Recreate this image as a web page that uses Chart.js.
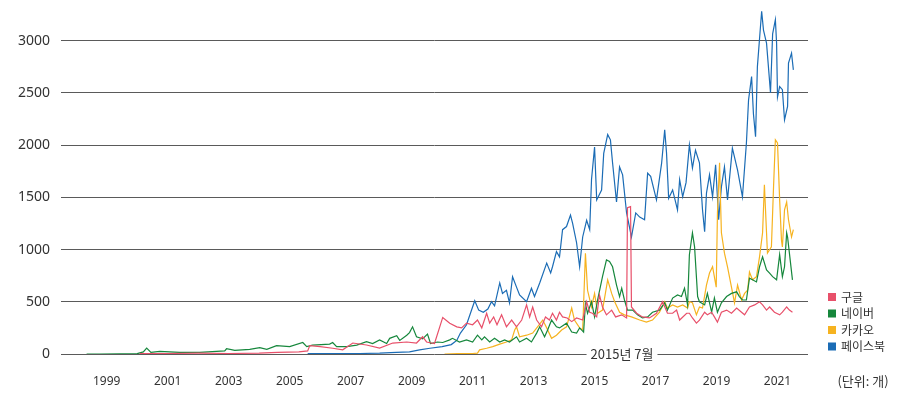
<!DOCTYPE html>
<html><head><meta charset="utf-8">
<script src="https://cdn.jsdelivr.net/npm/chart.js@4.4.0/dist/chart.umd.min.js"></script>
<style>html,body{margin:0;padding:0;background:#fff}#wrap{width:910px;height:407px;position:relative}</style>
</head><body><div id="wrap"><canvas id="c"></canvas></div>
<script>
// ---- data ([year, count]) ----
const seriesNames = ['구글', '네이버', '카카오', '페이스북'];
const seriesColors = ['#e8506a', '#16873c', '#f6b320', '#1b6cb5'];

const google = [[2000.08,3],[2001,5],[2002,8],[2003,5],[2004,8],[2004.6,15],[2005.3,20],[2005.59,30],[2005.66,80],[2006.0,70],[2006.41,55],[2006.74,40],[2007.07,105],[2007.52,86],[2007.95,57],[2008.38,105],[2008.84,115],[2009.16,105],[2009.36,165],[2009.49,115],[2009.75,100],[2010.02,350],[2010.25,295],[2010.48,260],[2010.64,250],[2010.8,295],[2011.0,280],[2011.16,325],[2011.3,250],[2011.46,390],[2011.56,295],[2011.69,355],[2011.8,280],[2011.95,375],[2012.11,260],[2012.28,325],[2012.44,260],[2012.61,325],[2012.77,470],[2012.87,355],[2012.97,450],[2013.1,325],[2013.26,260],[2013.39,355],[2013.52,325],[2013.62,390],[2013.75,325],[2013.85,400],[2013.95,355],[2014.1,345],[2014.25,310],[2014.41,345],[2014.61,325],[2014.74,500],[2014.84,400],[2014.93,390],[2015.07,355],[2015.16,565],[2015.26,450],[2015.39,375],[2015.56,420],[2015.69,355],[2015.89,375],[2016.05,345],[2016.08,1400],[2016.18,1410],[2016.21,450],[2016.38,390],[2016.57,355],[2016.8,345],[2017.03,390],[2017.23,500],[2017.39,390],[2017.56,390],[2017.69,420],[2017.79,325],[2018.02,390],[2018.11,390],[2018.21,345],[2018.34,295],[2018.44,325],[2018.61,400],[2018.7,375],[2018.84,400],[2018.93,355],[2019.03,305],[2019.16,400],[2019.33,420],[2019.49,390],[2019.66,440],[2019.82,400],[2019.92,375],[2020.08,450],[2020.25,470],[2020.41,500],[2020.51,470],[2020.64,420],[2020.74,450],[2020.9,400],[2021.07,375],[2021.16,400],[2021.3,450],[2021.39,420],[2021.49,400]];

const naver = [[1998.34,0],[1998.77,0],[1999.43,2],[2000.0,3],[2000.2,20],[2000.31,57],[2000.45,15],[2000.74,25],[2001.39,15],[2002.05,15],[2002.87,30],[2002.93,50],[2003.2,35],[2003.69,45],[2004.02,60],[2004.25,45],[2004.57,80],[2005.0,70],[2005.43,110],[2005.56,70],[2005.75,85],[2006.31,95],[2006.41,110],[2006.54,70],[2006.87,70],[2007.2,85],[2007.52,118],[2007.72,100],[2007.95,135],[2008.18,100],[2008.28,150],[2008.51,175],[2008.61,130],[2008.84,180],[2008.93,205],[2009.03,260],[2009.16,165],[2009.36,145],[2009.52,190],[2009.62,100],[2009.85,115],[2010.02,110],[2010.25,135],[2010.34,150],[2010.57,115],[2010.8,135],[2011.0,115],[2011.16,180],[2011.3,135],[2011.39,165],[2011.56,115],[2011.72,150],[2011.89,115],[2012.05,135],[2012.21,115],[2012.44,165],[2012.54,115],[2012.77,150],[2012.93,115],[2013.1,200],[2013.2,260],[2013.36,165],[2013.46,230],[2013.59,325],[2013.75,260],[2013.85,250],[2014.08,295],[2014.25,210],[2014.41,200],[2014.51,250],[2014.64,210],[2014.7,480],[2014.77,390],[2014.9,500],[2015.0,355],[2015.1,517],[2015.26,740],[2015.39,900],[2015.49,885],[2015.59,835],[2015.72,660],[2015.82,550],[2015.89,630],[2015.98,517],[2016.08,420],[2016.25,420],[2016.41,375],[2016.57,345],[2016.74,355],[2016.9,400],[2017.13,420],[2017.3,490],[2017.39,420],[2017.56,535],[2017.72,565],[2017.85,550],[2017.95,630],[2018.05,470],[2018.11,950],[2018.21,1160],[2018.28,1025],[2018.34,740],[2018.38,550],[2018.44,500],[2018.61,470],[2018.7,580],[2018.84,400],[2018.93,535],[2019.03,400],[2019.16,490],[2019.33,550],[2019.49,580],[2019.66,595],[2019.75,550],[2019.85,517],[2019.98,517],[2020.08,725],[2020.18,710],[2020.31,690],[2020.41,835],[2020.51,930],[2020.64,805],[2020.74,775],[2020.84,740],[2020.97,710],[2021.07,950],[2021.16,740],[2021.23,835],[2021.3,1160],[2021.33,1120],[2021.39,965],[2021.49,710]];

const kakao = [[2010.08,0],[2010.5,3],[2011.0,5],[2011.16,8],[2011.23,40],[2011.46,55],[2011.66,70],[2011.89,95],[2012.11,115],[2012.28,135],[2012.38,230],[2012.44,260],[2012.54,165],[2012.77,180],[2012.97,200],[2013.13,260],[2013.3,325],[2013.43,250],[2013.59,150],[2013.75,180],[2013.92,230],[2014.08,260],[2014.25,440],[2014.34,325],[2014.51,250],[2014.61,230],[2014.7,965],[2014.77,610],[2014.9,450],[2015.0,580],[2015.1,390],[2015.26,420],[2015.43,710],[2015.56,580],[2015.66,500],[2015.82,400],[2015.98,375],[2016.21,355],[2016.48,325],[2016.7,305],[2016.9,325],[2017.13,400],[2017.3,500],[2017.39,440],[2017.56,470],[2017.72,450],[2017.89,470],[2018.05,440],[2018.11,500],[2018.21,490],[2018.34,375],[2018.44,450],[2018.54,440],[2018.67,660],[2018.77,775],[2018.87,835],[2018.99,640],[2019.03,1350],[2019.1,1830],[2019.13,1475],[2019.16,1160],[2019.26,965],[2019.36,835],[2019.49,640],[2019.59,490],[2019.69,660],[2019.82,517],[2019.92,580],[2020.02,610],[2020.08,785],[2020.18,710],[2020.31,740],[2020.41,930],[2020.51,1160],[2020.57,1620],[2020.64,1160],[2020.67,965],[2020.8,1025],[2020.87,1600],[2020.93,2050],[2021.0,2020],[2021.07,1475],[2021.13,1090],[2021.16,1025],[2021.23,1380],[2021.3,1455],[2021.36,1285],[2021.46,1120],[2021.52,1190]];

const facebook = [[2005.59,5],[2006.5,3],[2007.3,5],[2007.95,8],[2008.5,15],[2008.93,20],[2009.26,40],[2009.6,55],[2010.0,70],[2010.3,90],[2010.48,130],[2010.6,200],[2010.8,280],[2011.07,510],[2011.2,420],[2011.35,400],[2011.5,430],[2011.62,500],[2011.72,460],[2011.89,680],[2011.98,580],[2012.11,610],[2012.21,490],[2012.31,740],[2012.44,640],[2012.54,565],[2012.77,500],[2012.93,630],[2013.03,550],[2013.2,680],[2013.43,870],[2013.56,775],[2013.62,835],[2013.75,980],[2013.85,930],[2013.95,1190],[2014.08,1220],[2014.21,1330],[2014.28,1250],[2014.41,1065],[2014.51,835],[2014.61,1120],[2014.74,1280],[2014.84,1190],[2014.9,1670],[2015.0,1980],[2015.07,1475],[2015.23,1570],[2015.3,1920],[2015.43,2100],[2015.52,2050],[2015.59,1830],[2015.72,1455],[2015.82,1790],[2015.92,1715],[2016.05,1350],[2016.21,1120],[2016.35,1350],[2016.48,1310],[2016.64,1285],[2016.74,1730],[2016.84,1700],[2017.03,1475],[2017.2,1830],[2017.3,2145],[2017.36,1925],[2017.43,1490],[2017.56,1570],[2017.72,1380],[2017.79,1670],[2017.89,1505],[2018.0,1640],[2018.11,2000],[2018.21,1780],[2018.31,1950],[2018.44,1830],[2018.54,1380],[2018.61,1170],[2018.67,1540],[2018.77,1715],[2018.87,1505],[2018.97,1810],[2019.07,1285],[2019.16,1600],[2019.26,1790],[2019.36,1475],[2019.52,1970],[2019.69,1760],[2019.85,1505],[2019.98,2020],[2020.05,2430],[2020.15,2655],[2020.21,2300],[2020.28,2080],[2020.34,2750],[2020.48,3280],[2020.54,3100],[2020.64,2975],[2020.77,2500],[2020.84,3065],[2020.93,3200],[2020.97,2975],[2021.0,2460],[2021.07,2560],[2021.16,2530],[2021.23,2240],[2021.33,2370],[2021.36,2785],[2021.46,2880],[2021.52,2720]];

const yTicks = [0, 500, 1000, 1500, 2000, 2500, 3000];
const xTicks = [1999, 2001, 2003, 2005, 2007, 2009, 2011, 2013, 2015, 2017, 2019, 2021];
const annotationText = '2015년 7월';
const annotationYear = 2015.9;
const unitText = '(단위: 개)';

const seriesData = [google, naver, kakao, facebook];
const FONT = "'Noto Sans', 'Noto Sans CJK KR', sans-serif";
const KFONT = "'Noto Sans CJK KR', 'Noto Sans', sans-serif";

const extras = {
  id: 'extras',
  afterDraw(chart) {
    const ctx = chart.ctx;
    const xs = chart.scales.x, ys = chart.scales.y;
    ctx.save();
    ctx.font = '13px ' + KFONT;
    const ax = xs.getPixelForValue(annotationYear);
    const ay = ys.getPixelForValue(0);
    const w = ctx.measureText(annotationText).width;
    ctx.fillStyle = '#fff';
    ctx.fillRect(ax - w / 2 - 4, ay - 8, w + 8, 16);
    ctx.fillStyle = '#333';
    ctx.textAlign = 'center';
    ctx.textBaseline = 'middle';
    ctx.fillText(annotationText, ax, ay);
    ctx.font = '12px ' + KFONT;
    ctx.textAlign = 'left';
    const lx = chart.chartArea.right + 20;
    const ly0 = ys.getPixelForValue(0) - 57;
    seriesNames.forEach((n, i) => {
      const cy = ly0 + i * 16.5;
      ctx.fillStyle = seriesColors[i];
      ctx.fillRect(lx, cy - 4, 8, 8);
      ctx.fillStyle = '#333';
      ctx.fillText(n, lx + 13, cy);
    });
    ctx.font = '13px ' + KFONT;
    ctx.textAlign = 'center';
    ctx.fillText(unitText, lx + 35, ys.getPixelForValue(0) + 27);
    ctx.restore();
  }
};

new Chart(document.getElementById('c'), {
  type: 'line',
  data: {
    datasets: seriesData.map((d, i) => ({
      label: seriesNames[i],
      data: d.map(p => ({ x: p[0], y: p[1] })),
      borderColor: seriesColors[i],
      backgroundColor: seriesColors[i],
      borderWidth: 1.2,
      pointRadius: 0,
      tension: 0,
      fill: false
    }))
  },
  options: {
    responsive: true,
    maintainAspectRatio: false,
    animation: false,
    layout: { padding: { top: 4, right: 102, bottom: 0, left: 0 } },
    plugins: { legend: { display: false }, tooltip: { enabled: false } },
    scales: {
      x: {
        type: 'linear',
        min: 1997.5,
        max: 2022,
        afterBuildTicks: s => { s.ticks = xTicks.map(v => ({ value: v })); },
        afterFit: s => { s.height = 53; s.paddingLeft = 0; s.paddingRight = 0; },
        grid: { display: false, drawTicks: false },
        border: { display: false },
        ticks: { padding: 20, color: '#333', font: { family: FONT, size: 12 }, callback: v => String(v), maxRotation: 0, autoSkip: false }
      },
      y: {
        min: 0,
        max: 3350,
        afterBuildTicks: s => { s.ticks = yTicks.map(v => ({ value: v })); },
        afterFit: s => { s.width = 61; s.paddingTop = 0; s.paddingBottom = 0; },
        grid: { color: '#5a5a5a', lineWidth: 1, drawTicks: false },
        border: { display: false },
        ticks: { padding: 11, color: '#333', font: { family: FONT, size: 14 }, callback: v => String(v) }
      }
    }
  },
  plugins: [extras]
});
</script>
</body></html>
